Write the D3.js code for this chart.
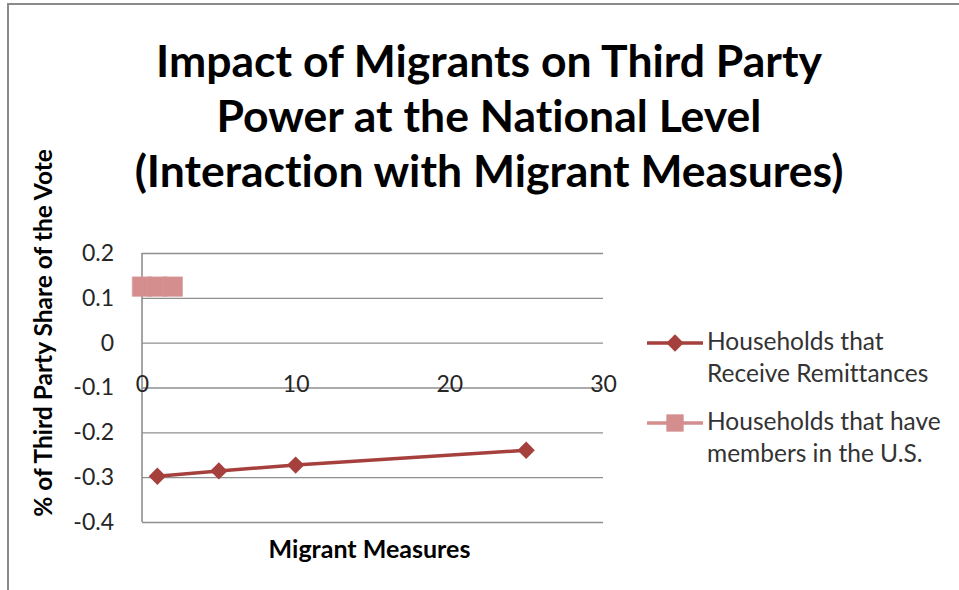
<!DOCTYPE html>
<html>
<head>
<meta charset="utf-8">
<script src="https://cdn.jsdelivr.net/npm/d3@7"></script>
<style>
  body { margin: 0; background: #fff; }
  svg { display: block; }
  text { font-family: Lato, "Open Sans", sans-serif; font-variant-ligatures: none; }
</style>
</head>
<body>
<script>
let w = 959;
let h = 590;

// data
var titleLines = ["Impact of Migrants on Third Party", "Power at the National Level", "(Interaction with Migrant Measures)"];
var seriesNames = ["Households that|Receive Remittances", "Households that have|members in the U.S."];
var remitX = [1, 5, 10, 25];
var remitY = [-0.298, -0.286, -0.273, -0.240];
var membersX = [0, 1, 2];
var membersY = [0.125, 0.125, 0.125];
var xTicks = [0, 10, 20, 30];
var yTicks = [0.2, 0.1, 0, -0.1, -0.2, -0.3, -0.4];

var darkRed = "#A5403D";
var pink = "#D38E8D";
var gridCol = "#8f8f8f";

var plot = { left: 142, right: 603, top: 253, bottom: 522 };

var svg = d3.select("body").append("svg")
    .attr("width", w)
    .attr("height", h);

// outer frame (only left and top edges show)
svg.append("path")
    .attr("d", "M8,590 L8,4 L959,4")
    .attr("fill", "none")
    .attr("stroke", "#8a8a8a")
    .attr("stroke-width", 2);

// title
svg.append("g").selectAll("text").data(titleLines).enter().append("text")
    .attr("x", 489)
    .attr("y", (d, i) => 77 + i * 55)
    .attr("text-anchor", "middle")
    .attr("font-size", 44.5)
    .attr("font-weight", "bold")
    .attr("fill", "#000")
    .text(d => d);

var x = d3.scaleLinear().domain([0, 30]).range([plot.left, plot.right]);
var y = d3.scaleLinear().domain([-0.4, 0.2]).range([plot.bottom, plot.top]);

var fmt = d => String(+d.toFixed(1));

// y axis + gridlines
var yAxis = svg.append("g")
    .attr("transform", `translate(${plot.left},0)`)
    .call(d3.axisLeft(y).tickValues(yTicks).tickSize(-(plot.right - plot.left)).tickPadding(28).tickFormat(fmt));
yAxis.select(".domain").remove();
yAxis.selectAll(".tick line").attr("stroke", gridCol).attr("stroke-width", 1.4);
yAxis.selectAll(".tick text")
    .attr("font-size", 23)
    .attr("font-family", "Lato, sans-serif")
    .attr("fill", "#262626");

// vertical axis line
svg.append("line")
    .attr("x1", plot.left).attr("x2", plot.left)
    .attr("y1", y(0.2)).attr("y2", y(-0.4))
    .attr("stroke", gridCol).attr("stroke-width", 1.6);

// x tick labels (sit on the -0.1 gridline like the original)
var xAxis = svg.append("g")
    .attr("transform", `translate(0,${y(-0.1) - 4})`)
    .call(d3.axisBottom(x).tickValues(xTicks).tickSize(0).tickPadding(0).tickFormat(d => d));
xAxis.select(".domain").remove();
xAxis.selectAll(".tick text")
    .attr("dy", "0.35em")
    .attr("font-size", 23)
    .attr("font-family", "Lato, sans-serif")
    .attr("fill", "#262626");

// axis titles
svg.append("text")
    .attr("x", (plot.left + plot.right) / 2 - 3)
    .attr("y", 558)
    .attr("text-anchor", "middle")
    .attr("font-size", 25)
    .attr("font-weight", "bold")
    .text("Migrant Measures");

svg.append("text")
    .attr("transform", "translate(52,333) rotate(-90)")
    .attr("text-anchor", "middle")
    .attr("font-size", 24.5)
    .attr("font-weight", "bold")
    .text("% of Third Party Share of the Vote");

var line = d3.line().x(d => x(d[0])).y(d => y(d[1]));
var remit = remitX.map((d, i) => [d, remitY[i]]);
var members = membersX.map((d, i) => [d, membersY[i]]);

var diamond = d3.symbol().type(d3.symbolSquare).size(150);
var square = d3.symbol().type(d3.symbolSquare).size(380);

// pink series
svg.append("path")
    .attr("d", line(members))
    .attr("fill", "none")
    .attr("stroke", pink)
    .attr("stroke-width", 3.5);
svg.selectAll(".sq").data(members).enter().append("path")
    .attr("class", "sq")
    .attr("d", square)
    .attr("transform", d => `translate(${x(d[0])},${y(d[1])})`)
    .attr("fill", pink)
    .attr("stroke", "#d69c9b")
    .attr("stroke-width", 0.6);

// red series
svg.append("path")
    .attr("d", line(remit))
    .attr("fill", "none")
    .attr("stroke", darkRed)
    .attr("stroke-width", 3.5);
svg.selectAll(".dm").data(remit).enter().append("path")
    .attr("class", "dm")
    .attr("d", diamond)
    .attr("transform", d => `translate(${x(d[0])},${y(d[1])}) rotate(45)`)
    .attr("fill", darkRed);

// legend
var legend = svg.append("g");
var legY = [343, 423];
var legCol = [darkRed, pink];
seriesNames.forEach((name, i) => {
    var g = legend.append("g").attr("transform", `translate(0,${legY[i]})`);
    g.append("line")
        .attr("x1", 647).attr("x2", 703)
        .attr("stroke", legCol[i]).attr("stroke-width", 3.5);
    g.append("path")
        .attr("d", i === 0 ? diamond : d3.symbol().type(d3.symbolSquare).size(300))
        .attr("transform", i === 0 ? "translate(675,0) rotate(45)" : "translate(675,0)")
        .attr("fill", legCol[i]);
    g.selectAll("text").data(name.split("|")).enter().append("text")
        .attr("x", 707)
        .attr("y", (d, j) => 7 + j * 32)
        .attr("font-size", 24.5)
        .attr("fill", "#333")
        .text(d => d);
});
</script>
</body>
</html>
